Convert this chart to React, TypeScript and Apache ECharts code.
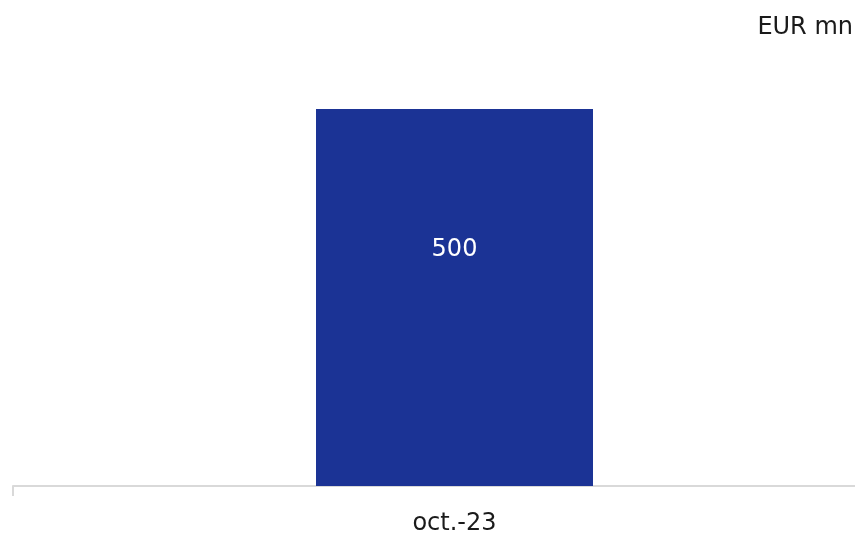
import React, { useEffect, useRef } from "react";
import * as echarts from "echarts";

const categories = ["oct.-23"];
const values = [500];
const unitLabel = "EUR mn";

const FONT = "DejaVu Sans";

export default function App() {
  const ref = useRef<HTMLDivElement>(null);
  useEffect(() => {
    if (!ref.current) return;
    const chart = echarts.init(ref.current, undefined, { renderer: "svg" });
    chart.setOption({
      animation: false,
      textStyle: { fontFamily: FONT },
      grid: { left: 13, width: 883, top: 109, bottom: 50 },
      xAxis: {
        type: "category",
        data: categories,
        axisLine: { show: true, lineStyle: { color: "#d9d9d9", width: 2 } },
        axisTick: { show: true, length: 10, lineStyle: { color: "#d9d9d9", width: 2 } },
        axisLabel: { color: "#1a1a1a", fontSize: 24, margin: 24, fontFamily: FONT },
      },
      yAxis: {
        type: "value",
        min: 0,
        max: 500,
        show: false,
        splitLine: { show: false },
      },
      series: [
        {
          type: "bar",
          data: values,
          barWidth: 277,
          itemStyle: { color: "#1b3395" },
          label: {
            show: true,
            position: ["50%", "37%"],
            align: "center",
            verticalAlign: "middle",
            color: "#ffffff",
            fontSize: 24,
            fontFamily: FONT,
          },
        },
      ],
      graphic: [
        {
          type: "text",
          right: 47,
          top: 14,
          style: { text: unitLabel, fontSize: 24, fill: "#1a1a1a", fontFamily: FONT },
        },
      ],
    });
    return () => chart.dispose();
  }, []);
  return (
    <div style={{ position: "fixed", left: 0, top: 0, width: 855, height: 536, overflow: "hidden" }}>
      <div ref={ref} style={{ width: 900, height: 536 }} />
    </div>
  );
}
